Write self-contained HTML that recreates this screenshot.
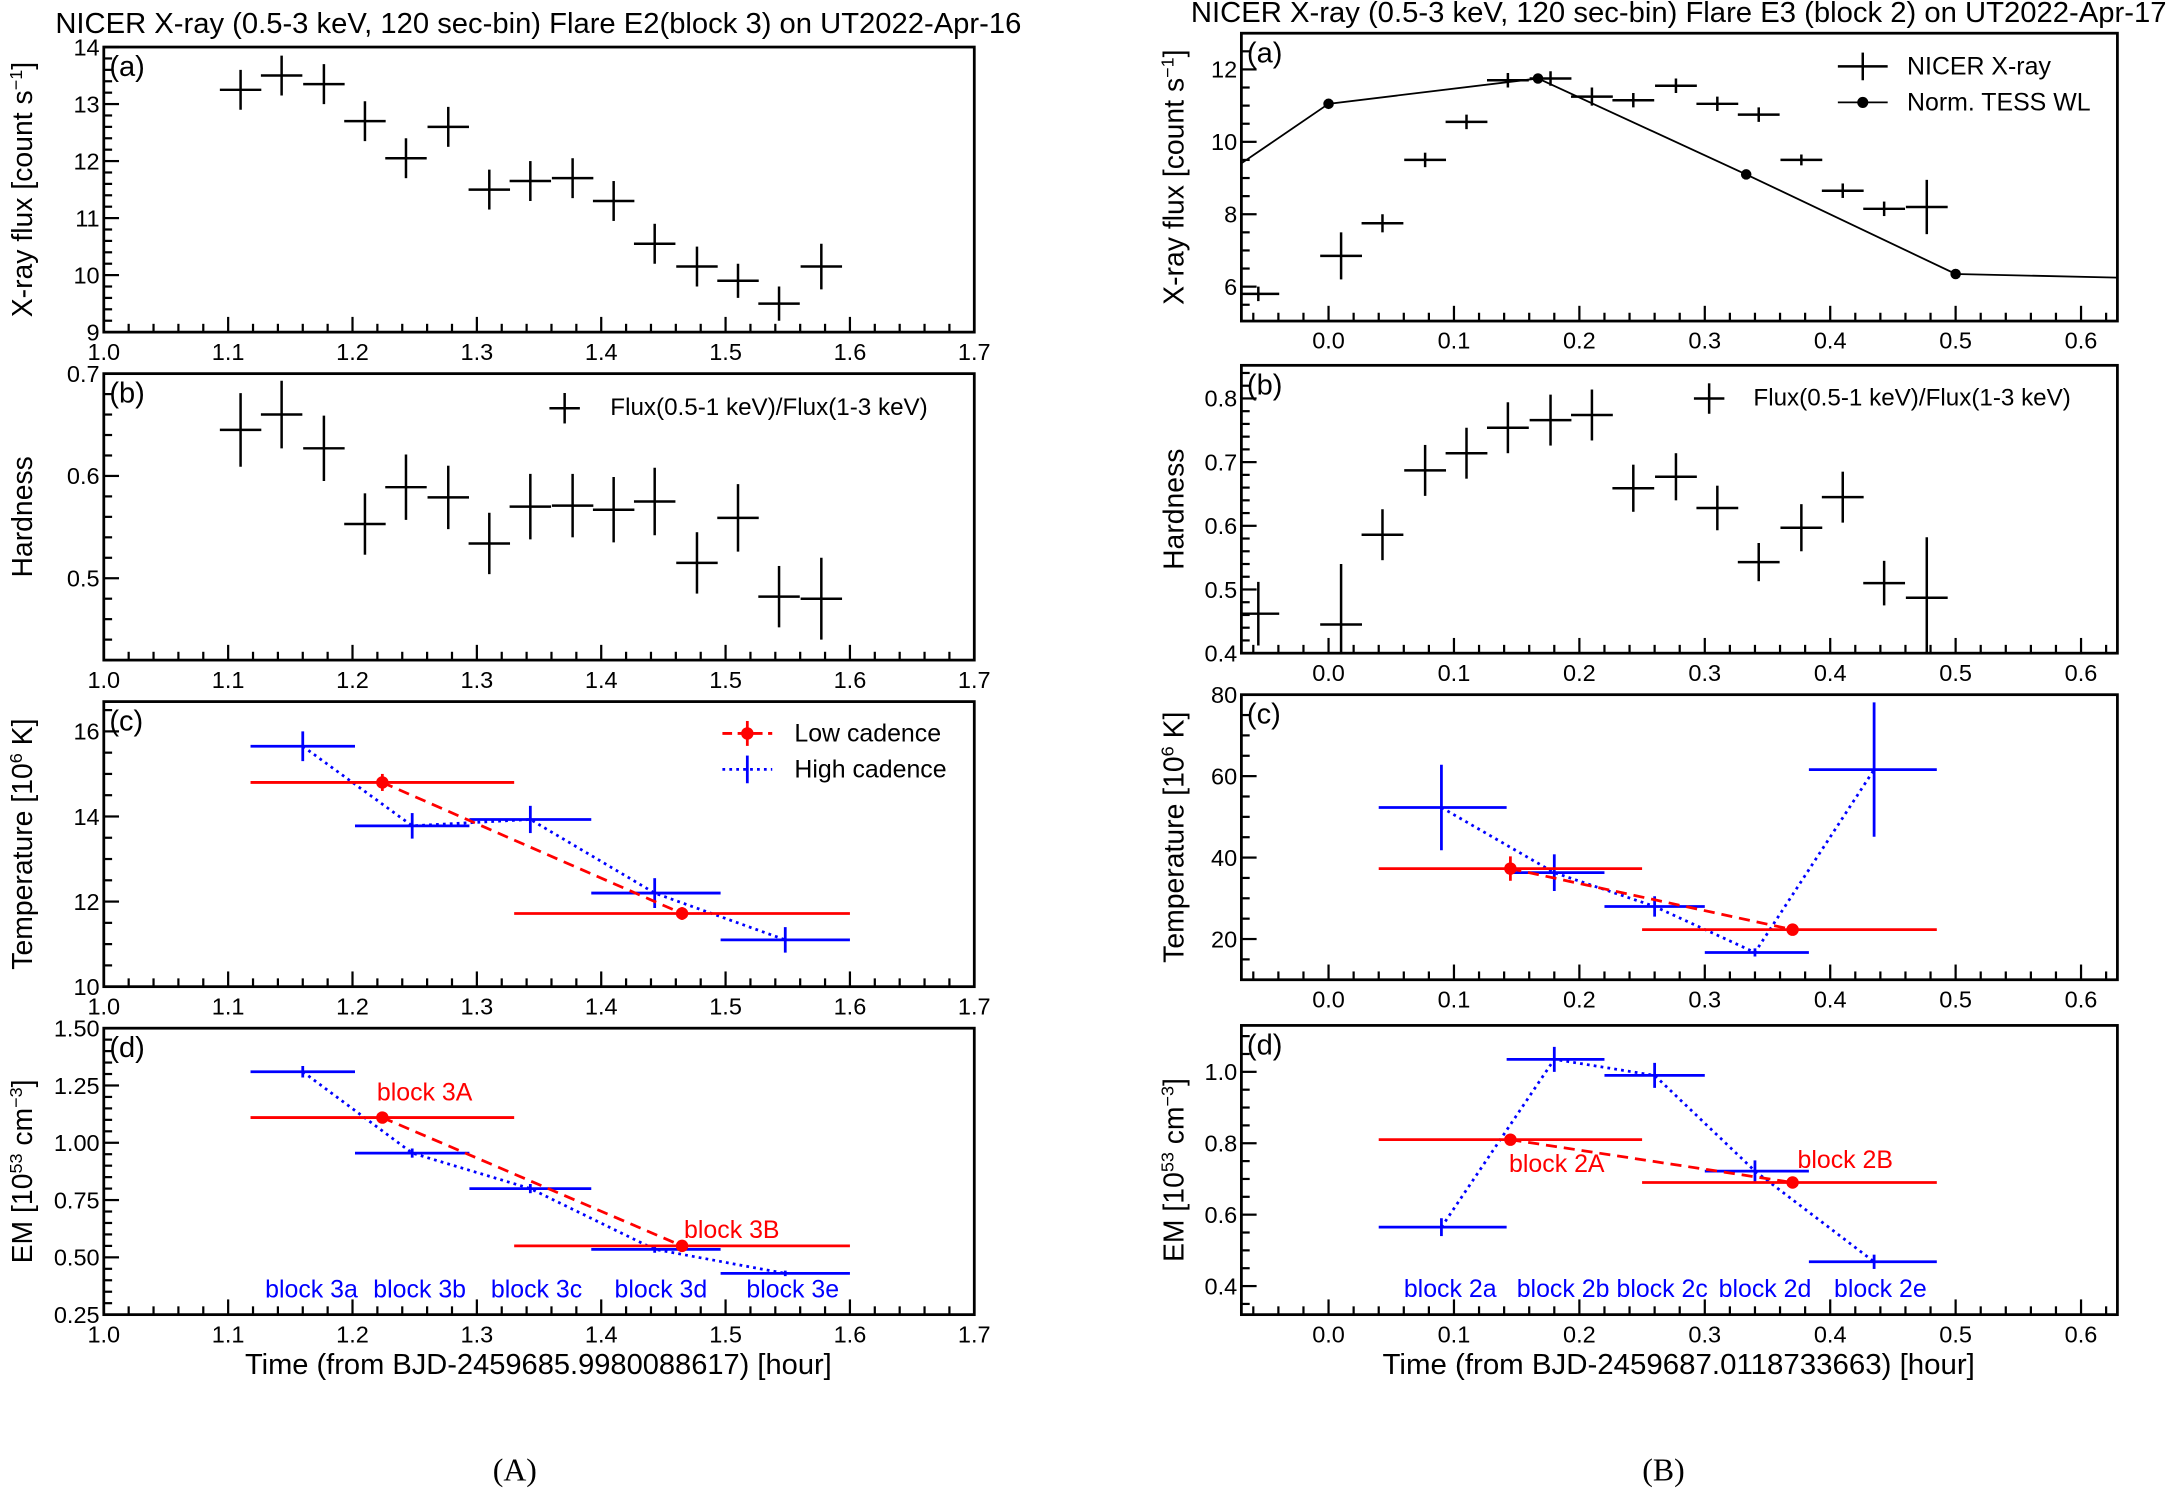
<!DOCTYPE html>
<html><head><meta charset="utf-8"><style>
html,body{margin:0;padding:0;background:#fff}
svg{display:block}
text{font-family:"Liberation Sans",Arial,sans-serif}
text.serif{font-family:"Liberation Serif","Times New Roman",serif}
</style></head><body>
<svg id="fig" xmlns="http://www.w3.org/2000/svg" width="2170" height="1489" viewBox="0 0 1568 1076" preserveAspectRatio="none">
<text x="389" y="24" font-size="20.5" text-anchor="middle" textLength="698" lengthAdjust="spacingAndGlyphs">NICER X-ray (0.5-3 keV, 120 sec-bin) Flare E2(block 3) on UT2022-Apr-16</text>
<text x="1213" y="16" font-size="20.5" text-anchor="middle" textLength="705" lengthAdjust="spacingAndGlyphs">NICER X-ray (0.5-3 keV, 120 sec-bin) Flare E3 (block 2) on UT2022-Apr-17</text>
<text class="serif" x="372" y="1070" font-size="23" text-anchor="middle">(A)</text>
<text class="serif" x="1202" y="1070" font-size="23" text-anchor="middle">(B)</text>
<text x="389" y="993" font-size="20.5" text-anchor="middle" textLength="424" lengthAdjust="spacingAndGlyphs">Time (from BJD-2459685.9980088617) [hour]</text>
<text x="1213" y="993" font-size="20.5" text-anchor="middle" textLength="428" lengthAdjust="spacingAndGlyphs">Time (from BJD-2459687.0118733663) [hour]</text>
</svg>
<script>
// ---------- data ----------
const lTimes = [1.110,1.143,1.177,1.210,1.243,1.277,1.310,1.343,1.377,1.410,1.443,1.477,1.510,1.543,1.577];
const lFlux = [13.25,13.5,13.35,12.7,12.05,12.6,11.5,11.65,11.7,11.3,10.55,10.15,9.9,9.5,10.15];
const lFluxErr = [0.35,0.35,0.35,0.35,0.35,0.35,0.35,0.35,0.35,0.35,0.35,0.35,0.3,0.3,0.4];
const lHard = [0.645,0.66,0.627,0.553,0.589,0.579,0.534,0.57,0.571,0.567,0.575,0.515,0.559,0.482,0.48];
const lHardErr = [0.036,0.033,0.032,0.03,0.032,0.031,0.03,0.032,0.031,0.032,0.033,0.03,0.033,0.03,0.04];
const lLowT = [1.224,1.465];
const lLowTLo = [1.118,1.33];
const lLowTHi = [1.33,1.6];
const lLowTemp = [14.8,11.72];
const lLowTempErr = [0.2,0.15];
const lLowEM = [1.11,0.55];
const lHighT = [1.16,1.248,1.343,1.443,1.548];
const lHighTLo = [1.118,1.202,1.294,1.392,1.496];
const lHighTHi = [1.202,1.294,1.392,1.496,1.6];
const lHighTemp = [15.65,13.78,13.93,12.2,11.1];
const lHighTempErr = [0.35,0.3,0.32,0.35,0.3];
const lHighEM = [1.31,0.955,0.80,0.535,0.43];
const lHighEMErr = [0.025,0.02,0.02,0.015,0.012];
const lBlockNames = ["block 3a","block 3b","block 3c","block 3d","block 3e"];

const rTimes = [-0.056,0.010,0.043,0.077,0.110,0.143,0.177,0.210,0.243,0.277,0.310,0.343,0.377,0.410,0.443,0.477];
const rFlux = [5.8,6.85,7.75,9.5,10.55,11.7,11.75,11.25,11.15,11.55,11.05,10.75,9.5,8.65,8.15,8.2];
const rFluxErr = [0.2,0.65,0.25,0.2,0.2,0.2,0.2,0.25,0.2,0.2,0.2,0.2,0.15,0.2,0.2,0.75];
const rTessT = [-0.167,0.0,0.167,0.333,0.5,0.667];
const rTessF = [7.1,11.05,11.75,9.1,6.35,6.22];
const rHard = [0.462,0.445,0.586,0.687,0.714,0.754,0.766,0.774,0.659,0.677,0.628,0.543,0.597,0.645,0.51,0.487];
const rHardErr = [0.05,0.095,0.04,0.04,0.04,0.04,0.04,0.04,0.037,0.037,0.035,0.03,0.037,0.04,0.035,0.095];
const rLowT = [0.145,0.37];
const rLowTLo = [0.04,0.25];
const rLowTHi = [0.25,0.485];
const rLowTemp = [37.3,22.3];
const rLowTempErr = [3,1];
const rLowEM = [0.81,0.69];
const rHighT = [0.09,0.18,0.26,0.34,0.435];
const rHighTLo = [0.04,0.142,0.22,0.3,0.383];
const rHighTHi = [0.142,0.22,0.3,0.383,0.485];
const rHighTemp = [52.3,36.3,28,16.7,61.6];
const rHighTempErr = [10.5,4.5,2.5,1,16.5];
const rHighEM = [0.565,1.035,0.99,0.722,0.468];
const rHighEMErr = [0.025,0.035,0.035,0.03,0.02];
const rBlockNames = ["block 2a","block 2b","block 2c","block 2d","block 2e"];

const lXTicks = ["1.0","1.1","1.2","1.3","1.4","1.5","1.6","1.7"];
const rXTicks = ["0.0","0.1","0.2","0.3","0.4","0.5","0.6"];

// ---------- helpers ----------
const NS="http://www.w3.org/2000/svg";
const svg=document.getElementById('fig');
function mk(tag,attrs,parent){const e=document.createElementNS(NS,tag);for(const k in attrs)e.setAttribute(k,attrs[k]);(parent||svg).appendChild(e);return e;}
let clipId=0;
function panel(o){
  const g=mk('g',{});
  
  
  const sx=v=>o.x0+(v-o.xmin)/(o.xmax-o.xmin)*(o.x1-o.x0);
  const sy=v=>o.y1-(v-o.ymin)/(o.ymax-o.ymin)*(o.y1-o.y0);
  for(let v=Math.ceil(o.xmin/o.xminor-1e-6)*o.xminor; v<=o.xmax+1e-9; v+=o.xminor){
    const maj=Math.abs(v/o.xmajor-Math.round(v/o.xmajor))<1e-6;
    const l=mk('line',{x1:sx(v),x2:sx(v),y1:o.y1,y2:o.y1-(maj?11:6),stroke:'#000','stroke-width':1.6},g);
    
    
  }
  o.xlabels.forEach(s=>{const v=parseFloat(s);
    const t=mk('text',{x:sx(v),y:o.y1+20,'font-size':17,'text-anchor':'middle'},g);t.textContent=s;
    
    });
  for(let v=Math.ceil(o.ymin/o.yminor-1e-6)*o.yminor; v<=o.ymax+1e-9; v+=o.yminor){
    const maj=Math.abs(v/o.ymajor-Math.round(v/o.ymajor))<1e-6;
    const l=mk('line',{x1:o.x0,x2:o.x0+(maj?11:6),y1:sy(v),y2:sy(v),stroke:'#000','stroke-width':1.6},g);
    
    
  }
  o.ylabels.forEach(s=>{const v=parseFloat(s);
    const t=mk('text',{x:o.x0-3,y:sy(v)+6,'font-size':17,'text-anchor':'end'},g);t.textContent=s;
    
    });
  const f=mk('rect',{x:o.x0,y:o.y0,width:o.x1-o.x0,height:o.y1-o.y0,fill:'none',stroke:'#000','stroke-width':2},g);
  
  
  const pl=mk('text',{x:o.x0+4,y:o.y0+21,'font-size':21},g);pl.textContent=o.plabel;
  
  
  const yt=mk('text',{transform:`translate(${o.ytx},${(o.y0+o.y1)/2}) rotate(-90)`,'font-size':20.5,'text-anchor':'middle'},g);
  yt.innerHTML=o.ytitle;
  
  
  const id='c'+(clipId++);
  const cp=mk('clipPath',{id:id},g);mk('rect',{x:o.x0,y:o.y0,width:o.x1-o.x0,height:o.y1-o.y0},cp);
  const dg=mk('g',{'clip-path':`url(#${id})`},g);
  return {g,dg,sx,sy};
}
function cross(p,x,xl,xh,y,ye,col,w,name){
  const a=mk('line',{x1:p.sx(xl),x2:p.sx(xh),y1:p.sy(y),y2:p.sy(y),stroke:col,'stroke-width':w},p.dg);
  
  
  const b=mk('line',{x1:p.sx(x),x2:p.sx(x),y1:p.sy(y-ye),y2:p.sy(y+ye),stroke:col,'stroke-width':w},p.dg);
  
  
}
function poly(p,xs,ys,col,dash,w,name){
  const pts=xs.map((x,i)=>p.sx(x)+','+p.sy(ys[i])).join(' ');
  const l=mk('polyline',{points:pts,fill:'none',stroke:col,'stroke-width':w,'stroke-dasharray':dash},p.dg);
  
  
}
function dot(p,x,y,col,r,name){
  const c=mk('circle',{cx:p.sx(x),cy:p.sy(y),r:r,fill:col},p.dg);
  
  
}
function txt(p,x,y,s,col,name){
  const t=mk('text',{x:p.sx(x),y:p.sy(y),'font-size':18,fill:col,'text-anchor':'middle'},p.g);t.textContent=s;
  
  
}
const HW=1/60;
const L={x0:75,x1:704,xmin:1.0,xmax:1.7,xmajor:0.1,xminor:0.02,xlabels:lXTicks,ytx:23};
const R={x0:897,x1:1530,xmin:-0.0695,xmax:0.629,xmajor:0.1,xminor:0.02,xlabels:rXTicks,ytx:855};

// Left (a)
let p=panel(Object.assign({},L,{name:'left-panel-a',y0:34,y1:240,ymin:9,ymax:14,ymajor:1,yminor:0.2,ylabels:["9","10","11","12","13","14"],plabel:'(a)',ytitle:'X-ray flux [count s<tspan dy="-7" font-size="13">−1</tspan><tspan dy="7">]</tspan>'}));
lTimes.forEach((t,i)=>cross(p,t,t-HW,t+HW,lFlux[i],lFluxErr[i],'#000',1.8,'flux-point'));
// Left (b)
p=panel(Object.assign({},L,{name:'left-panel-b',y0:270,y1:477,ymin:0.42,ymax:0.7,ymajor:0.1,yminor:0.02,ylabels:["0.5","0.6","0.7"],plabel:'(b)',ytitle:'Hardness'}));
lTimes.forEach((t,i)=>cross(p,t,t-HW,t+HW,lHard[i],lHardErr[i],'#000',1.8,'hardness-point'));
mk('line',{x1:397,x2:419,y1:295,y2:295,stroke:'#000','stroke-width':1.8},p.g);mk('line',{x1:408,x2:408,y1:284,y2:306,stroke:'#000','stroke-width':1.8},p.g);
{const t=mk('text',{x:441,y:300,'font-size':17.5},p.g);t.textContent='Flux(0.5-1 keV)/Flux(1-3 keV)';}
// Left (c)
p=panel(Object.assign({},L,{name:'left-panel-c',y0:507,y1:713,ymin:10,ymax:16.7,ymajor:2,yminor:0.5,ylabels:["10","12","14","16"],plabel:'(c)',ytitle:'Temperature [10<tspan dy="-7" font-size="13">6</tspan><tspan dy="7"> K]</tspan>'}));
poly(p,lHighT,lHighTemp,'#00f','2,3',2,'high-cadence-line');
lHighT.forEach((t,i)=>cross(p,t,lHighTLo[i],lHighTHi[i],lHighTemp[i],lHighTempErr[i],'#00f',2,'high-cadence-point'));
poly(p,lLowT,lLowTemp,'#f00','8,5',2,'low-cadence-line');
lLowT.forEach((t,i)=>{cross(p,t,lLowTLo[i],lLowTHi[i],lLowTemp[i],lLowTempErr[i],'#f00',2,'low-cadence-point');dot(p,t,lLowTemp[i],'#f00',4.5,'low-cadence-marker');});
mk('line',{x1:522,x2:558,y1:530,y2:530,stroke:'#f00','stroke-width':2,'stroke-dasharray':'7,4'},p.g);
mk('circle',{cx:540,cy:530,r:4.5,fill:'#f00'},p.g);mk('line',{x1:540,x2:540,y1:521,y2:539,stroke:'#f00','stroke-width':2},p.g);
mk('line',{x1:522,x2:558,y1:556,y2:556,stroke:'#00f','stroke-width':2,'stroke-dasharray':'2,3'},p.g);
mk('line',{x1:540,x2:540,y1:546,y2:566,stroke:'#00f','stroke-width':2},p.g);
{let t=mk('text',{x:574,y:536,'font-size':18},p.g);t.textContent='Low cadence';
t=mk('text',{x:574,y:562,'font-size':18},p.g);t.textContent='High cadence';}
// Left (d)
p=panel(Object.assign({},L,{name:'left-panel-d',y0:743,y1:950,ymin:0.25,ymax:1.5,ymajor:0.25,yminor:0.05,ylabels:["0.25","0.50","0.75","1.00","1.25","1.50"],plabel:'(d)',ytitle:'EM [10<tspan dy="-7" font-size="13">53</tspan><tspan dy="7"> cm</tspan><tspan dy="-7" font-size="13">−3</tspan><tspan dy="7">]</tspan>'}));
poly(p,lHighT,lHighEM,'#00f','2,3',2,'high-cadence-line');
lHighT.forEach((t,i)=>cross(p,t,lHighTLo[i],lHighTHi[i],lHighEM[i],lHighEMErr[i],'#00f',2,'high-cadence-point'));
poly(p,lLowT,lLowEM,'#f00','8,5',2,'low-cadence-line');
lLowT.forEach((t,i)=>{cross(p,t,lLowTLo[i],lLowTHi[i],lLowEM[i],0.01,'#f00',2,'low-cadence-point');dot(p,t,lLowEM[i],'#f00',4.5,'low-cadence-marker');});
txt(p,1.258,1.185,'block 3A','#f00','block-label');
txt(p,1.505,0.585,'block 3B','#f00','block-label');
lHighT.forEach((t,i)=>txt(p,[1.167,1.254,1.348,1.448,1.554][i],0.325,lBlockNames[i],'#00f','block-label'));

// Right (a)
p=panel(Object.assign({},R,{name:'right-panel-a',y0:24,y1:232,ymin:5.05,ymax:13,ymajor:2,yminor:0.5,ylabels:["6","8","10","12"],plabel:'(a)',ytitle:'X-ray flux [count s<tspan dy="-7" font-size="13">−1</tspan><tspan dy="7">]</tspan>'}));
rTimes.forEach((t,i)=>cross(p,t,t-HW,t+HW,rFlux[i],rFluxErr[i],'#000',1.8,'flux-point'));
poly(p,rTessT,rTessF,'#000','none',1.3,'tess-line');
rTessT.forEach((t,i)=>dot(p,t,rTessF[i],'#000',3.8,'tess-point'));
mk('line',{x1:1328,x2:1364,y1:48,y2:48,stroke:'#000','stroke-width':1.8},p.g);mk('line',{x1:1346,x2:1346,y1:38,y2:58,stroke:'#000','stroke-width':1.8},p.g);
mk('line',{x1:1328,x2:1364,y1:74,y2:74,stroke:'#000','stroke-width':1.3},p.g);mk('circle',{cx:1346,cy:74,r:4,fill:'#000'},p.g);
{let t=mk('text',{x:1378,y:54,'font-size':18},p.g);t.textContent='NICER X-ray';
t=mk('text',{x:1378,y:80,'font-size':18},p.g);t.textContent='Norm. TESS WL';}
// Right (b)
p=panel(Object.assign({},R,{name:'right-panel-b',y0:264,y1:472,ymin:0.4,ymax:0.852,ymajor:0.1,yminor:0.02,ylabels:["0.4","0.5","0.6","0.7","0.8"],plabel:'(b)',ytitle:'Hardness'}));
rTimes.forEach((t,i)=>cross(p,t,t-HW,t+HW,rHard[i],rHardErr[i],'#000',1.8,'hardness-point'));
mk('line',{x1:1224,x2:1246,y1:288,y2:288,stroke:'#000','stroke-width':1.8},p.g);mk('line',{x1:1235,x2:1235,y1:277,y2:299,stroke:'#000','stroke-width':1.8},p.g);
{const t=mk('text',{x:1267,y:293,'font-size':17.5},p.g);t.textContent='Flux(0.5-1 keV)/Flux(1-3 keV)';}
// Right (c)
p=panel(Object.assign({},R,{name:'right-panel-c',y0:502,y1:708,ymin:10,ymax:80,ymajor:20,yminor:5,ylabels:["20","40","60","80"],plabel:'(c)',ytitle:'Temperature [10<tspan dy="-7" font-size="13">6</tspan><tspan dy="7"> K]</tspan>'}));
poly(p,rHighT,rHighTemp,'#00f','2,3',2,'high-cadence-line');
rHighT.forEach((t,i)=>cross(p,t,rHighTLo[i],rHighTHi[i],rHighTemp[i],rHighTempErr[i],'#00f',2,'high-cadence-point'));
poly(p,rLowT,rLowTemp,'#f00','8,5',2,'low-cadence-line');
rLowT.forEach((t,i)=>{cross(p,t,rLowTLo[i],rLowTHi[i],rLowTemp[i],rLowTempErr[i],'#f00',2,'low-cadence-point');dot(p,t,rLowTemp[i],'#f00',4.5,'low-cadence-marker');});
// Right (d)
p=panel(Object.assign({},R,{name:'right-panel-d',y0:741,y1:950,ymin:0.32,ymax:1.13,ymajor:0.2,yminor:0.05,ylabels:["0.4","0.6","0.8","1.0"],plabel:'(d)',ytitle:'EM [10<tspan dy="-7" font-size="13">53</tspan><tspan dy="7"> cm</tspan><tspan dy="-7" font-size="13">−3</tspan><tspan dy="7">]</tspan>'}));
poly(p,rHighT,rHighEM,'#00f','2,3',2,'high-cadence-line');
rHighT.forEach((t,i)=>cross(p,t,rHighTLo[i],rHighTHi[i],rHighEM[i],rHighEMErr[i],'#00f',2,'high-cadence-point'));
poly(p,rLowT,rLowEM,'#f00','8,5',2,'low-cadence-line');
rLowT.forEach((t,i)=>{cross(p,t,rLowTLo[i],rLowTHi[i],rLowEM[i],0.01,'#f00',2,'low-cadence-point');dot(p,t,rLowEM[i],'#f00',4.5,'low-cadence-marker');});
txt(p,0.182,0.72,'block 2A','#f00','block-label');
txt(p,0.412,0.73,'block 2B','#f00','block-label');
[0.097,0.187,0.266,0.348,0.44].forEach((x,i)=>txt(p,x,0.37,rBlockNames[i],'#00f','block-label'));
</script>
</body></html>
